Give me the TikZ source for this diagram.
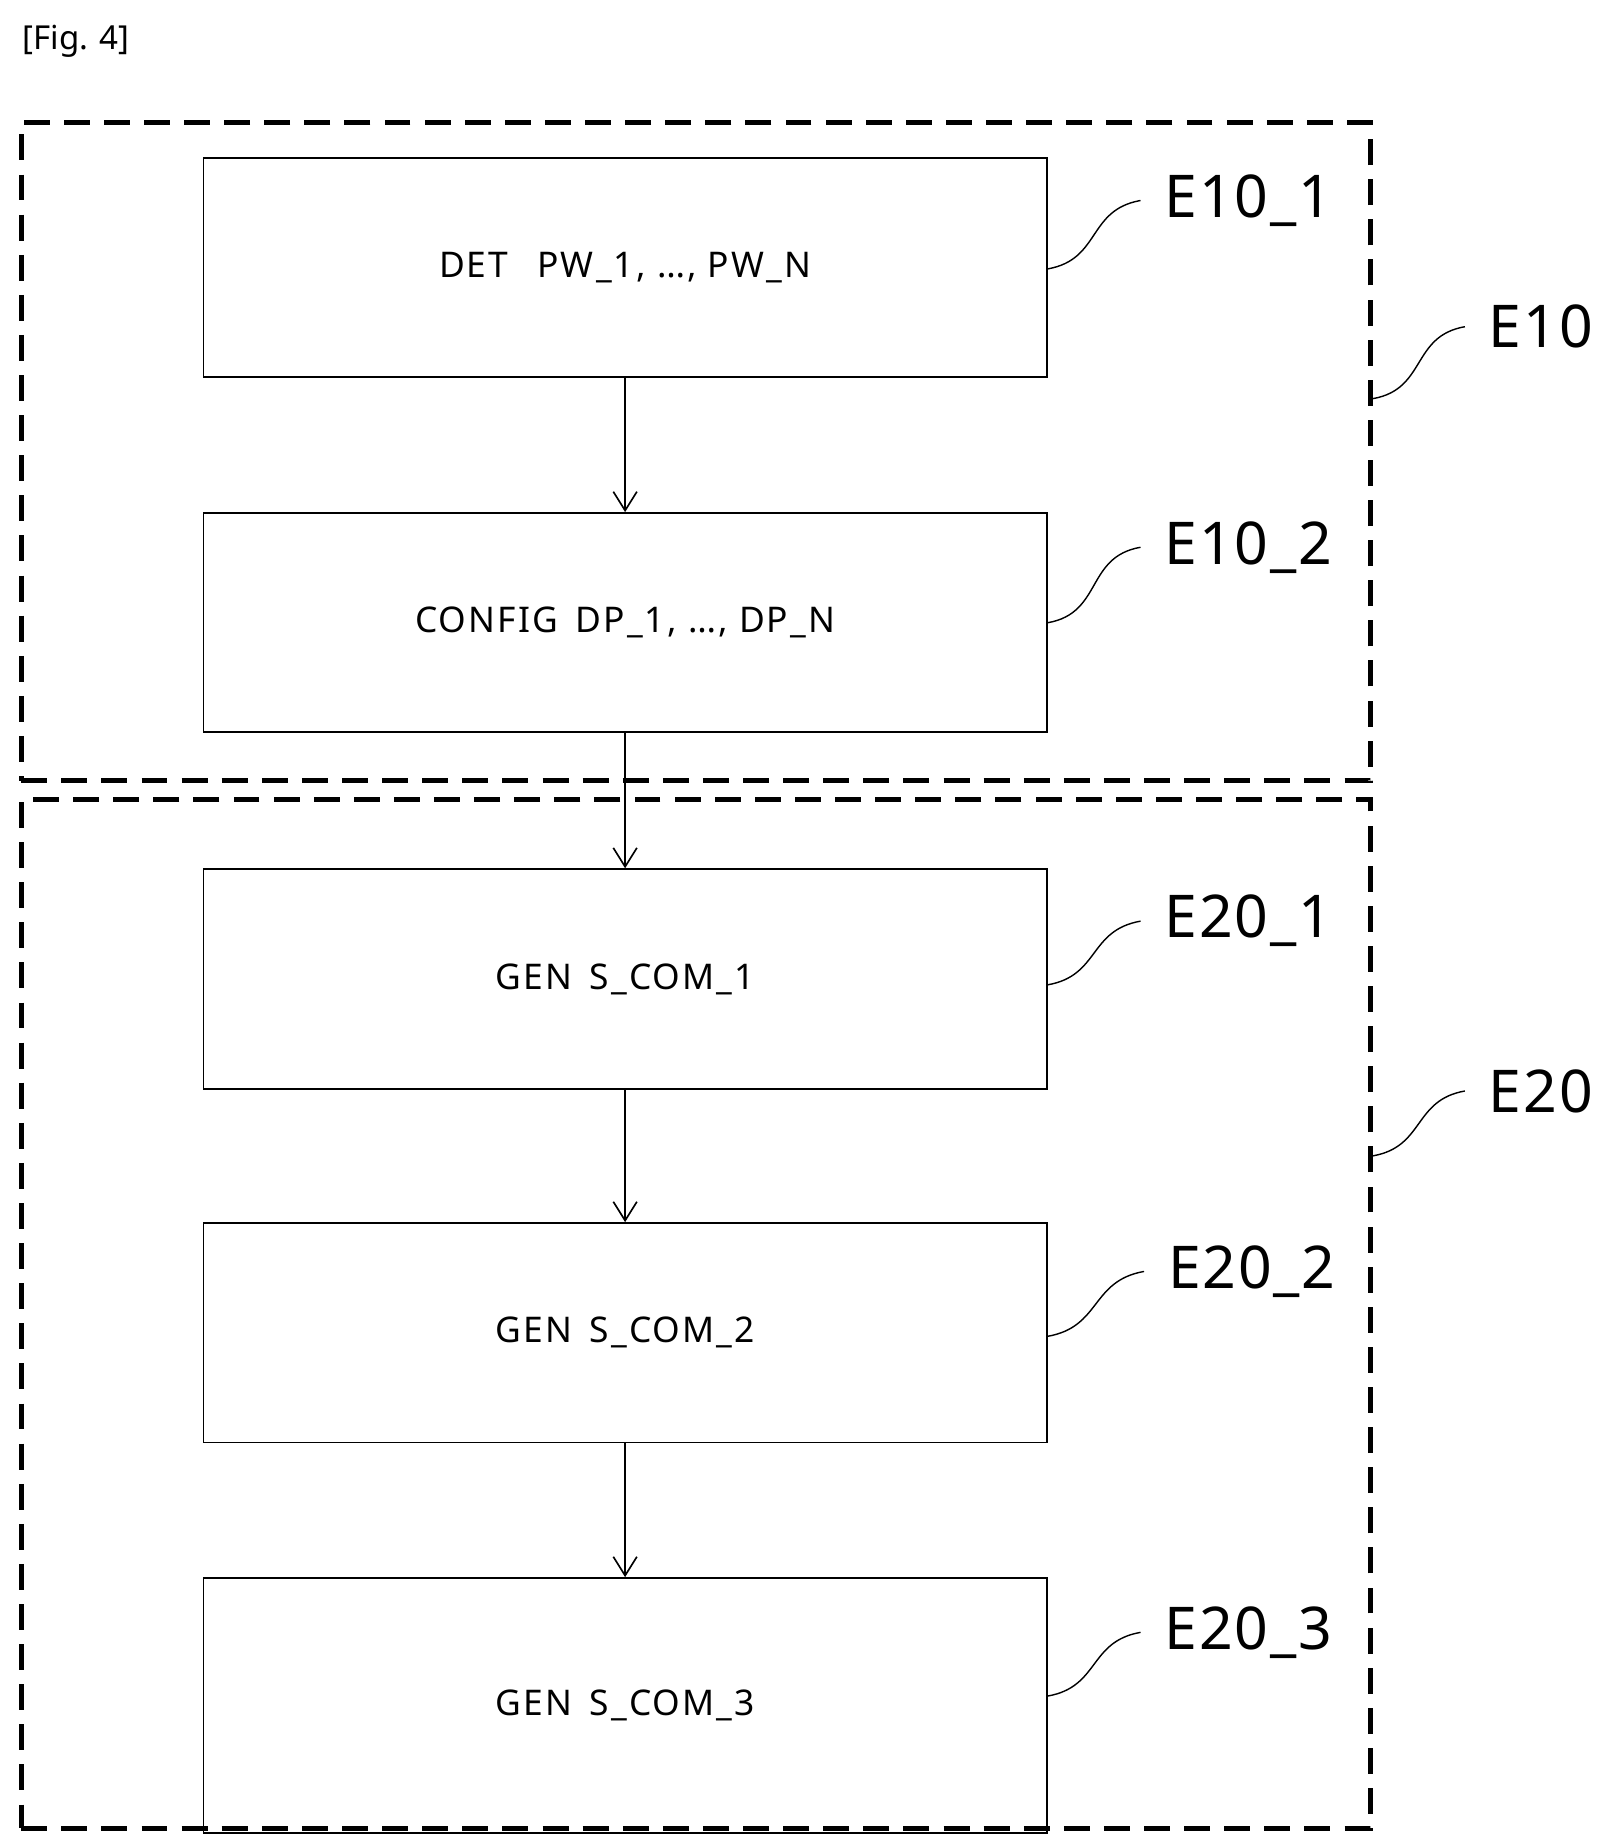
\documentclass[tikz,border=0pt]{standalone}
\usepackage{fontspec}
\setmainfont{Noto Sans}
\usetikzlibrary{arrows.meta}
\begin{document}
\begin{tikzpicture}[x=0.5pt,y=-0.5pt,
  box/.style={draw,line width=0.8pt,minimum width=357.5pt,minimum height=93pt,font=\fontsize{15}{17}\selectfont\addfontfeature{LetterSpace=6}},
  grp/.style={draw,line width=2pt,dash pattern=on 11pt off 6pt},
  lbl/.style={font=\fontsize{25}{28}\selectfont\addfontfeature{LetterSpace=3},anchor=west,inner sep=0pt},
  sq/.style={line width=0.6pt},
  arr/.style={line width=0.7pt,-{Straight Barb[length=8pt,width=10pt]}}]
\useasboundingbox (0,0) rectangle (1365,1566);
\node[anchor=west,font=\fontsize{14}{16}\selectfont] (fig) at (12,35) {[Fig. 4]};
\node[grp,minimum width=572pt,minimum height=279pt] (g1) at (590,383) {};
\node[grp,minimum width=572pt,minimum height=436pt] (g2) at (590,1114) {};
\node[box] (b1) at (530,227) {DET\enspace\ PW\_1, …, PW\_N};
\node[box] (b2) at (530,528) {CONFIG\enspace DP\_1, …, DP\_N};
\node[box] (b3) at (530,830) {GEN\enspace S\_COM\_1};
\node[box] (b4) at (530,1130) {GEN\enspace S\_COM\_2};
\node[box,minimum height=108pt] (b5) at (530,1446) {GEN\enspace S\_COM\_3};
\draw[arr] (b1) -- (b2);
\draw[arr] (b2) -- (b3);
\draw[arr] (b3) -- (b4);
\draw[arr] (b4) -- (b5);
\node[lbl] (l1) at (987,170) {E10\_1};
\node[lbl] (l2) at (987,464) {E10\_2};
\node[lbl] (l3) at (987,781) {E20\_1};
\node[lbl] (l4) at (990,1078) {E20\_2};
\node[lbl] (l5) at (987,1384) {E20\_3};
\node[lbl] (L1) at (1262,277) {E10};
\node[lbl] (L2) at (1262,925) {E20};
\foreach \b/\l/\y in {b1/l1/228,b2/l2/528,b3/l3/835,b4/l4/1133,b5/l5/1438}{
  \coordinate (s) at (\b.east |- 0,\y);
  \draw[sq] (s) to[out=10,in=190,looseness=1.2] ([xshift=-10pt]\l.west);
}
\coordinate (t1) at (g1.east |- 0,338);
\draw[sq] (t1) to[out=10,in=190,looseness=1.2] ([xshift=-10pt]L1.west);
\coordinate (t2) at (g2.east |- 0,980);
\draw[sq] (t2) to[out=10,in=190,looseness=1.2] ([xshift=-10pt]L2.west);
\end{tikzpicture}
\end{document}
